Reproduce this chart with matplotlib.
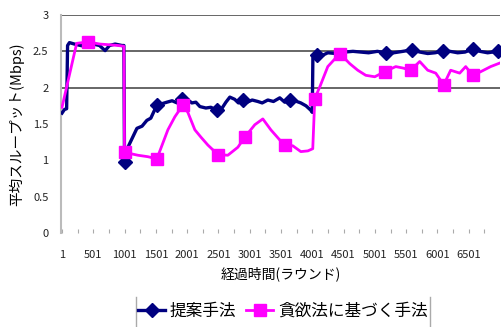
import numpy as np
import matplotlib
matplotlib.use('Agg')
from matplotlib import pyplot as plt
from matplotlib.lines import Line2D

plt.rcParams['font.family'] = ['Noto Sans CJK JP', 'DejaVu Sans']

# 提案手法
r_prop = [1, 40, 75, 90, 120, 200, 300, 415, 500, 600, 690, 760, 850, 960, 990,
          1000, 1054, 1198, 1280, 1357, 1420, 1517, 1600, 1677, 1760, 1840, 1916,
          2000, 2076, 2140, 2204, 2300, 2380, 2475, 2560, 2620, 2683, 2760, 2820,
          2891, 2960, 3040, 3130, 3200, 3290, 3380, 3481, 3560, 3641, 3720, 3817,
          3900, 3976, 4000, 4010, 4072, 4150, 4248, 4380, 4519, 4650, 4775, 4900,
          5040, 5174, 5300, 5450, 5590, 5720, 5845, 5960, 6084, 6200, 6324, 6440,
          6564, 6680, 6803, 6880, 6963, 7000]
v_prop = [1.65, 1.70, 1.71, 2.58, 2.62, 2.60, 2.58, 2.56, 2.60, 2.58, 2.51, 2.58,
          2.60, 2.58, 2.58,
          0.98, 1.18, 1.44, 1.47, 1.55, 1.58, 1.76, 1.78, 1.80, 1.82, 1.79, 1.85,
          1.84, 1.79, 1.80, 1.74, 1.72, 1.73, 1.69, 1.72, 1.80, 1.87, 1.84, 1.79,
          1.83, 1.80, 1.83, 1.81, 1.79, 1.83, 1.81, 1.86, 1.80, 1.83, 1.82, 1.79,
          1.75, 1.69, 1.66, 2.41, 2.45, 2.44, 2.48, 2.47, 2.49, 2.50, 2.49, 2.48,
          2.50, 2.48, 2.48, 2.50, 2.52, 2.49, 2.47, 2.48, 2.50, 2.50, 2.48, 2.49,
          2.53, 2.50, 2.48, 2.49, 2.50, 2.49]
mk_prop = [2475, 1916, 2891, 3641, 4072, 5174, 5590, 6084, 6564, 6963, 1000, 1517]

# 貪欲法に基づく手法
r_greedy = [1, 235, 415, 607, 767, 900, 990, 1000, 1214, 1373, 1517, 1693, 1805,
            1932, 2012, 2124, 2220, 2332, 2491, 2651, 2811, 2923, 3082, 3210,
            3338, 3481, 3561, 3689, 3817, 3930, 4008, 4040, 4120, 4248, 4440,
            4600, 4727, 4855, 4999, 5158, 5334, 5450, 5574, 5717, 5845, 5973,
            6101, 6212, 6356, 6452, 6564, 6692, 6851, 7000]
v_greedy = [1.73, 2.61, 2.63, 2.60, 2.59, 2.58, 2.57, 1.11, 1.07, 1.05, 1.02,
            1.42, 1.60, 1.76, 1.66, 1.42, 1.32, 1.21, 1.08, 1.07, 1.18, 1.32,
            1.49, 1.57, 1.42, 1.28, 1.21, 1.20, 1.12, 1.13, 1.16, 1.85, 2.01,
            2.29, 2.47, 2.33, 2.24, 2.17, 2.15, 2.22, 2.29, 2.27, 2.24, 2.36,
            2.24, 2.20, 2.04, 2.24, 2.20, 2.29, 2.17, 2.22, 2.29, 2.34]
mk_greedy = [415, 1000, 1517, 1932, 2491, 2923, 3561, 4040, 4440, 5158, 5574,
             6101, 6564]

x_ticks = list(range(1, 7000, 500))
y_ticks = [0, 0.5, 1, 1.5, 2, 2.5, 3]
y_ticklabels = ['0', '0.5', '1', '1.5', '2', '2.5', '3']

fig = plt.figure(figsize=(5.03, 3.27), dpi=100)
ax = fig.add_axes([61 / 503, 1 - 233 / 327, 439 / 503, 218 / 327])

for g in [2, 2.5, 3]:
    ax.axhline(g, color='#5a5a5a', lw=1.3, zorder=1)

ax.plot(r_prop, v_prop, color='#000080', lw=2.4, marker='D', ms=6.8,
        markevery=[r_prop.index(m) for m in mk_prop], zorder=3)
ax.plot(r_greedy, v_greedy, color='#ff00ff', lw=2.0, marker='s', ms=8,
        markevery=[r_greedy.index(m) for m in mk_greedy], zorder=4)

ax.set_xlim(-15, 7000)
ax.set_ylim(0, 3)
ax.set_yticks(y_ticks)
ax.set_yticklabels(y_ticklabels)
ax.set_xticks(x_ticks)
ax.set_xticklabels([str(x) for x in x_ticks])
ax.set_xticks(list(range(251, 7000, 500)), minor=True)
ax.tick_params(axis='y', length=0, pad=9, labelsize=8, labelcolor='#222222')
ax.tick_params(axis='x', which='both', direction='in', length=3, width=0.8,
               color='#aaaaaa', pad=12, labelsize=8, labelcolor='#222222')

for s in ['top', 'right', 'bottom']:
    ax.spines[s].set_visible(False)
ax.spines['left'].set_color('#bbbbbb')
ax.spines['left'].set_linewidth(1.5)

ax.set_ylabel('平均スループット(Mbps)', fontsize=10.5, labelpad=6)
ax.set_xlabel('経過時間(ラウンド)', fontsize=10, labelpad=5)

handles = [
    Line2D([], [], color='#000080', lw=2.4, marker='D', ms=6.8),
    Line2D([], [], color='#ff00ff', lw=2.0, marker='s', ms=8),
]
fig.legend(handles, ['提案手法', '貪欲法に基づく手法'], loc='center',
           bbox_to_anchor=(283 / 503, 1 - 311 / 327), ncol=2, frameon=False,
           fontsize=12, handlelength=1.6, handletextpad=0.3, columnspacing=0.6)
for xp in [136, 430]:
    fig.add_artist(Line2D([xp / 503, xp / 503], [0, 1 - 297 / 327],
                          color='#aaaaaa', lw=1.0))

fig.savefig('out.png', dpi=100)
